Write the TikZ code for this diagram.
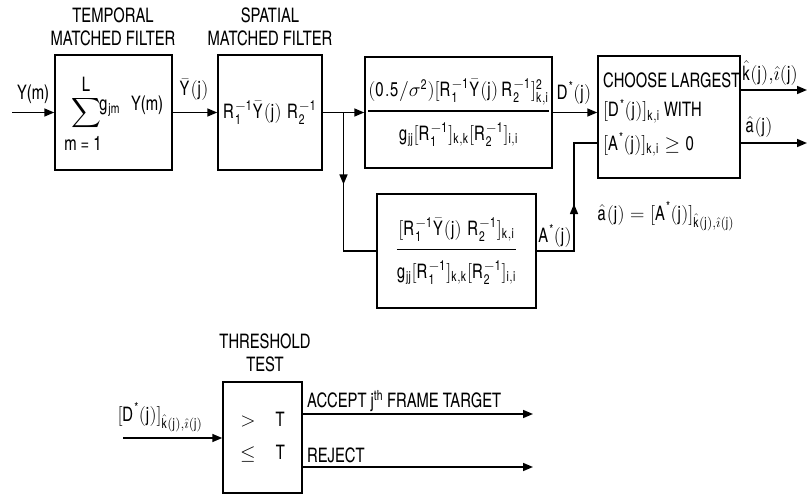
\RequirePackage{fix-cm}
\documentclass[tikz,border=0pt]{standalone}
\usepackage{amsmath}
\usepackage[no-math]{fontspec}
\setmainfont{texgyreheroscn}[Extension=.otf,UprightFont=*-regular,BoldFont=*-bold,ItalicFont=*-italic,BoldItalicFont=*-bolditalic,FakeStretch=0.9]
\newfontfamily\hcn{texgyreheroscn}[Extension=.otf,UprightFont=*-regular,FakeStretch=0.9,NFSSFamily=hcn]
\DeclareMathAlphabet{\mathhc}{TU}{hcn}{m}{n}
\DeclareMathSizes{20}{20}{14}{11}
\usetikzlibrary{arrows.meta,decorations.markings,calc}
\tikzset{
    blk/.style={draw,line width=1.5pt,inner sep=2pt},
    lbl/.style={inner sep=1pt},
    wire/.style={line width=1.5pt},
    flow/.style={wire,-{Triangle[length=10pt,width=8pt]}},
    midtip/.style={postaction={decorate},
        decoration={markings,mark=at position #1 with {\arrow{Triangle[length=10pt,width=8pt]}}}}
}
\newcommand{\rr}[1]{\mathhc{#1}}
\newcommand{\st}{^{\text{*}}}
\newcommand{\Yb}{\bar{\rr{Y}}\rr{(j)}}
\newcommand{\kihat}{\hat{\rr{k}}\rr{(j)}\mathord{,}\hat{\imath}\rr{(j)}}
\begin{document}
\begin{tikzpicture}[x=1pt,y=1pt,font=\fontsize{20}{23}\selectfont]
    \useasboundingbox (0,0) rectangle (809,-495);
    % Blocks
    \node[blk,minimum width=117pt,minimum height=115pt] (tmf) at (113.5,-112.5) {};
    \node[blk,minimum width=104pt,minimum height=115pt] (smf) at (270,-112.5) {$\rr{R_1^{-1}}\Yb\;\rr{R_2^{-1}}$};
    \node[blk,minimum width=187pt,minimum height=111pt] (det) at (458.5,-112.5)
        {$\genfrac{}{}{1.5pt}{0}{\rule[-9pt]{0pt}{9pt}\rr{(0.5/}\sigma^{\rr{2}}\rr{)[R_1^{-1}}\Yb\,\rr{R_2^{-1}]_{k,i}^2}}{\rule{0pt}{24pt}\rr{g_{jj}[R_1^{-1}]_{k,k}[R_2^{-1}]_{i,i}}}$};
    \node[blk,minimum width=159pt,minimum height=114pt] (amp) at (456.5,-251)
        {$\genfrac{}{}{1.5pt}{0}{\rule[-9pt]{0pt}{9pt}\rr{[R_1^{-1}}\Yb\;\rr{R_2^{-1}]_{k,i}}}{\rule{0pt}{24pt}\rr{g_{jj}[R_1^{-1}]_{k,k}[R_2^{-1}]_{i,i}}}$};
    \node[blk,minimum width=142pt,minimum height=122pt] (sel) at (669,-117) {};
    \node[blk,minimum width=79pt,minimum height=111pt,align=center] (thr) at (262.5,-437.5) {$>$\quad T\\[10pt]$\leq$\quad T};
    % Inside the temporal filter
    \node[lbl,font=\fontsize{20}{22}\selectfont] (sumsym) at (86,-113) {$\displaystyle\sum$};
    \node[lbl] (sumtop) at (86,-84) {L};
    \node[lbl] (sumbot) at (83,-143) {m = 1};
    \node[lbl] (gjm) at (110,-108) {$\rr{g_{jm}}$};
    \node[lbl] (ym) at (147,-105) {Y(m)};
    % Inside the selection block
    \node[lbl,anchor=base west] (sel1) at (602,-88) {CHOOSE LARGEST};
    \node[lbl,anchor=base west] (sel2) at (602,-117) {$[\rr{D}\st\rr{(j)}]_{\rr{k,i}}$ WITH};
    \node[lbl,anchor=base west] (sel3) at (602,-150) {$[\rr{A}\st\rr{(j)}]_{\rr{k,i}}\geq\rr{0}$};
    % Titles
    \node[lbl,align=center] (ttmf) at (113,-27) {TEMPORAL\\MATCHED FILTER};
    \node[lbl,align=center] (tsmf) at (270,-27) {SPATIAL\\MATCHED FILTER};
    \node[lbl,align=center] (tthr) at (265,-353) {THRESHOLD\\TEST};
    % Connectors
    \coordinate (yin) at (12,-112.5);
    \coordinate (jn) at ($(smf.east)!0.5!(det.west)$);
    \coordinate (aup) at (574,-143);
    \coordinate (kout) at (807,-90);
    \coordinate (aout) at (807,-143);
    \draw[flow] (yin) -- (tmf.west);
    \draw[flow] (tmf.east) -- (smf.west);
    \draw[flow] (smf.east) -- (det.west);
    \draw[wire,midtip=0.42] (jn) |- (amp.west);
    \draw[flow] (det.east) -- (det.east -| sel.west);
    \draw[wire,midtip=0.5] (amp.east) -| (aup) -- (aup -| sel.west);
    \draw[flow] (sel.east |- kout) -- (kout);
    \draw[flow] (sel.east |- aout) -- (aout);
    \coordinate (din) at (123,-438);
    \coordinate (acc) at (533,-414);
    \coordinate (rej) at (533,-467);
    \draw[flow] (din) -- (din -| thr.west);
    \draw[flow] (thr.east |- acc) -- (acc);
    \draw[flow] (thr.east |- rej) -- (rej);
    % Connector labels
    \node[lbl] (lym) at (33,-94) {Y(m)};
    \node[lbl] (lyb) at (194,-90) {$\Yb$};
    \node[lbl] (ld) at (574,-93) {$\rr{D}\st\rr{(j)}$};
    \node[lbl] (la) at (555,-236) {$\rr{A}\st\rr{(j)}$};
    \node[lbl] (lki) at (770,-73) {$\kihat$};
    \node[lbl] (lah) at (759,-127) {$\hat{\rr{a}}\rr{(j)}$};
    \node[lbl] (leq) at (666,-216) {$\hat{\rr{a}}\rr{(j)} = \rr{[A}\st\rr{(j)]}_{\kihat}$};
    \node[lbl] (ldin) at (160,-417) {$\rr{[D}\st\rr{(j)]}_{\kihat}$};
    \node[lbl,anchor=west] (lacc) at (306,-401) {ACCEPT j\textsuperscript{th} FRAME TARGET};
    \node[lbl,anchor=west] (lrej) at (306,-455) {REJECT};
\end{tikzpicture}
\end{document}
